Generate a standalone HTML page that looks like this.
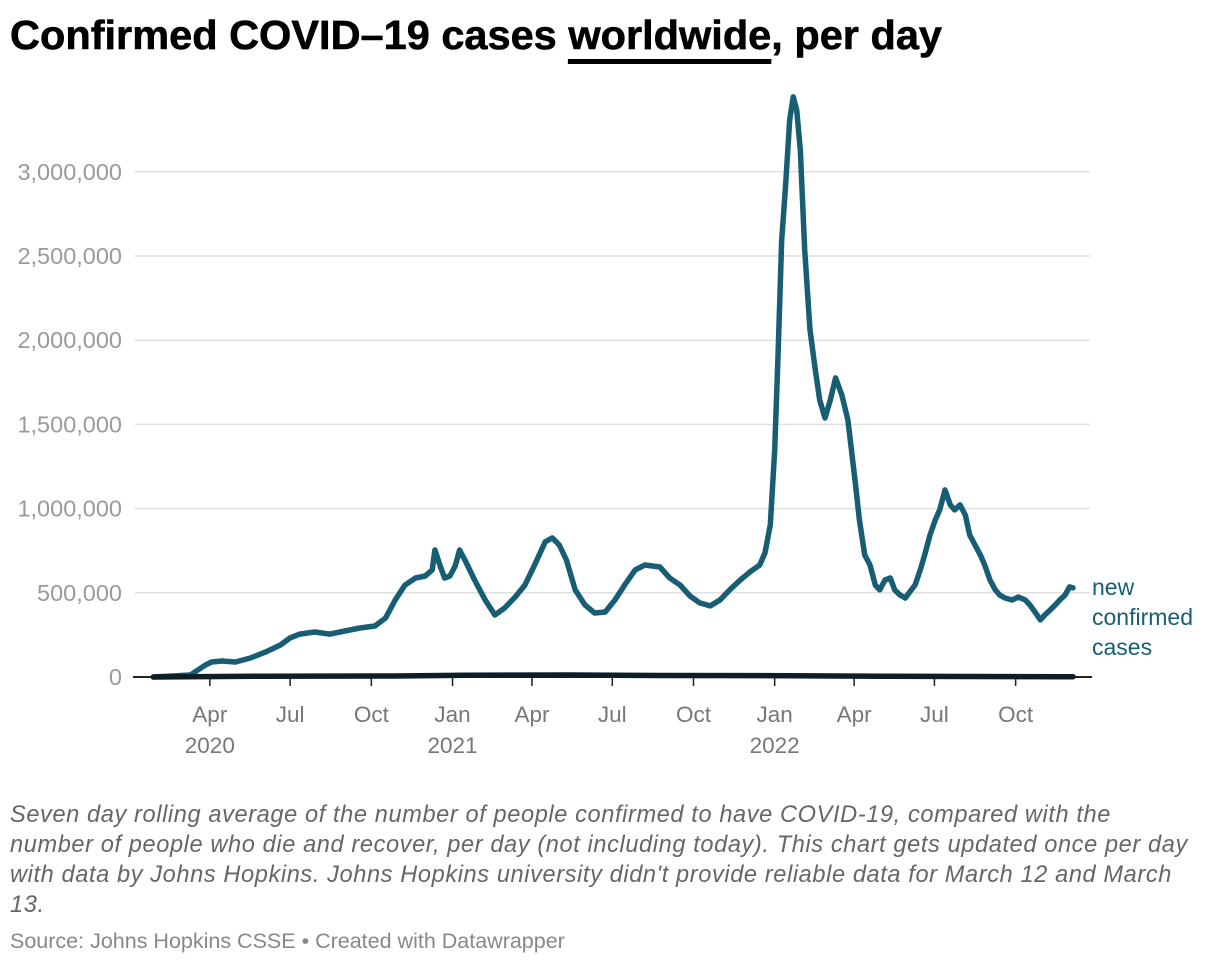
<!DOCTYPE html>
<html><head><meta charset="utf-8"><style>
body{margin:0;width:1220px;height:966px;background:#fff;font-family:"Liberation Sans",sans-serif;position:relative;overflow:hidden}
#title{position:absolute;left:10px;top:12px;font-size:41px;font-weight:bold;color:#000;white-space:nowrap;transform-origin:0 0;-webkit-text-stroke:0.6px #000}
#title u{text-decoration:none;border-bottom:5px solid #000;padding-bottom:1px}
#notes{position:absolute;left:10px;top:800px;width:1210px;font-size:23.6px;font-style:italic;color:#666;line-height:30px;letter-spacing:0.6px;white-space:nowrap}
#source{position:absolute;left:10px;top:929px;font-size:21.5px;color:#888}
svg{position:absolute;left:0;top:0}
</style></head><body>
<div id="title">Confirmed COVID–19 cases <u>worldwide</u>, per day</div>
<svg id="chart" width="1220" height="800"></svg>
<div id="notes">Seven day rolling average of the number of people confirmed to have COVID-19, compared with the<br>number of people who die and recover, per day (not including today). This chart gets updated once per day<br>with data by Johns Hopkins. Johns Hopkins university didn't provide reliable data for March 12 and March<br>13.</div>
<div id="source">Source: Johns Hopkins CSSE • Created with Datawrapper</div>
<script>
// days since 2020-01-01
const days=[27,69,86,93,105,120,137,154,171,182,193,210,227,244,261,278,290,301,312,324,335,343,346,352,357,363,369,374,380,391,403,414,425,437,448,459,471,479,487,495,505,516,527,539,550,561,573,584,601,612,624,635,646,658,669,680,692,703,714,720,726,731,735,739,743,748,752,756,760,765,771,777,782,788,794,800,807,814,822,827,833,839,845,850,856,862,867,873,879,884,890,896,901,907,913,918,924,930,935,941,947,952,958,964,969,975,981,986,992,1000,1007,1015,1020,1026,1032,1037,1043,1049,1054,1060,1065,1069];
// new confirmed cases, thousands
const cases=[0,12,71,89,95,89,113,148,190,232,255,267,255,273,291,303,350,457,546,588,600,636,754,659,588,600,659,754,695,576,457,368,410,475,546,665,802,826,784,695,517,428,380,386,457,546,636,665,653,588,546,481,440,422,457,517,576,624,665,737,903,1348,1942,2596,2893,3309,3445,3368,3130,2536,2061,1824,1645,1538,1645,1776,1675,1527,1170,933,725,665,546,517,576,588,517,487,469,505,546,636,725,843,933,992,1111,1022,992,1022,962,843,784,725,665,576,517,487,469,457,475,457,428,386,339,368,398,428,457,487,535,529];
// small second series (deaths), thousands
const deathDays=[27,150,300,380,500,600,750,850,950,1069];
const deaths=[0,5,6,10,12,9,8,5,3,2];
const yTicks=[0,500000,1000000,1500000,2000000,2500000,3000000];
const yTickLabels=["0","500,000","1,000,000","1,500,000","2,000,000","2,500,000","3,000,000"];
const xTickDays=[91,182,274,366,456,547,639,731,821,912,1004];
const xTickLabels=["Apr","Jul","Oct","Jan","Apr","Jul","Oct","Jan","Apr","Jul","Oct"];
const xYearLabels=["2020","","","2021","","","","2022","","",""];

const NS="http://www.w3.org/2000/svg";
const svg=document.getElementById('chart');
const xS=d=>129.5+d*0.8826;
const yS=v=>677-v/500000*84.2;
function mk(tag,attrs,parent){const e=document.createElementNS(NS,tag);for(const k in attrs)e.setAttribute(k,attrs[k]);(parent||svg).appendChild(e);return e;}

yTicks.forEach((v,i)=>{
  if(v>0){const g=mk('line',{x1:135,x2:1090,y1:yS(v),y2:yS(v),stroke:'#e0e0e0','stroke-width':1.5});
  
  }
  const t=mk('text',{x:122,y:yS(v)+8,'text-anchor':'end','font-size':23.5,fill:'#9a9a9a','font-family':'Liberation Sans, sans-serif'});
  t.textContent=yTickLabels[i];
  
  
});
xTickDays.forEach((d,i)=>{
  const x=xS(d);
  const tk=mk('line',{x1:x,x2:x,y1:677,y2:686,stroke:'#222','stroke-width':1.5});
  
  
  const t=mk('text',{x:x,y:722,'text-anchor':'middle','font-size':22.5,fill:'#777','font-family':'Liberation Sans, sans-serif'});
  t.textContent=xTickLabels[i];
  
  
  if(xYearLabels[i]){const y=mk('text',{x:x,y:753,'text-anchor':'middle','font-size':22.5,fill:'#777','font-family':'Liberation Sans, sans-serif'});
  y.textContent=xYearLabels[i];
  
  }
});
const base=mk('line',{x1:133,x2:1092,y1:677,y2:677,stroke:'#222','stroke-width':2});



const cp=mk('path',{d:days.map((d,i)=>(i?'L':'M')+xS(d).toFixed(1)+','+yS(cases[i]*1000).toFixed(1)).join(''),fill:'none',stroke:'#175e74','stroke-width':5.5,'stroke-linejoin':'round','stroke-linecap':'round'});


const dp=mk('path',{d:deathDays.map((d,i)=>(i?'L':'M')+xS(d).toFixed(1)+','+yS(deaths[i]*1000).toFixed(1)).join(''),fill:'none',stroke:'#0e1e29','stroke-width':5.5,'stroke-linejoin':'round','stroke-linecap':'round'});



["new","confirmed","cases"].forEach((w,i)=>{
  const t=mk('text',{x:1092,y:595+i*30,'font-size':23,fill:'#175e74','font-family':'Liberation Sans, sans-serif'});
  t.textContent=w;
  
  
});

const ti=document.getElementById('title');
const w=ti.getBoundingClientRect().width;
ti.style.transform='scaleX('+(932/w)+')';
</script>
</body></html>
